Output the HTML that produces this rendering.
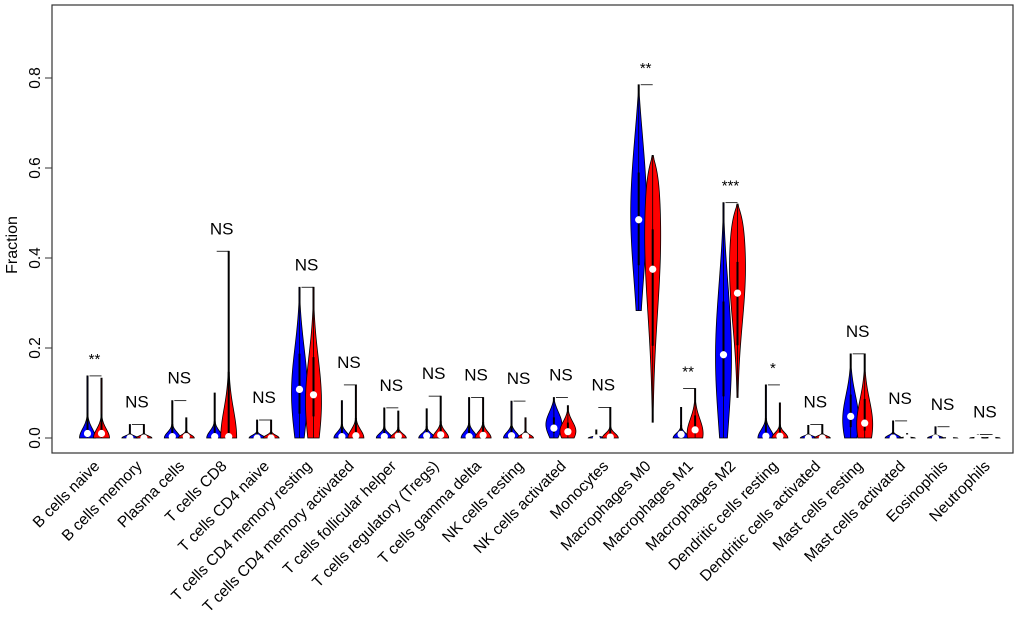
<!DOCTYPE html>
<html><head><meta charset="utf-8">
<style>
html,body{margin:0;padding:0;background:#fff;}
svg{display:block;font-family:"Liberation Sans",Arial,sans-serif;}
</style></head>
<body>
<svg id="chart" width="1020" height="632" viewBox="0 0 1020 632" xmlns="http://www.w3.org/2000/svg">
<rect x="52" y="5" width="961" height="448" fill="none" stroke="#333" stroke-width="1.2"/>
<text transform="translate(17,245) rotate(-90)" text-anchor="middle" font-size="16">Fraction</text>
<g id="yaxis"></g>
<g id="marks"></g>
<g id="xlabels"></g>
</svg>
<script>
const categories=["B cells naive","B cells memory","Plasma cells","T cells CD8","T cells CD4 naive","T cells CD4 memory resting","T cells CD4 memory activated","T cells follicular helper","T cells regulatory (Tregs)","T cells gamma delta","NK cells resting","NK cells activated","Monocytes","Macrophages M0","Macrophages M1","Macrophages M2","Dendritic cells resting","Dendritic cells activated","Mast cells resting","Mast cells activated","Eosinophils","Neutrophils"];
const sigLabels=["**","NS","NS","NS","NS","NS","NS","NS","NS","NS","NS","NS","NS","**","**","***","*","NS","NS","NS","NS","NS"];
const blueMax=[0.138,0.03,0.083,0.1,0.04,0.335,0.083,0.067,0.065,0.09,0.082,0.09,0.018,0.785,0.068,0.523,0.118,0.028,0.187,0.038,0.025,0.008];
const blueMin=[0,0,0,0,0,0,0,0,0,0,0,0,0,0.283,0,0,0,0,0,0,0,0];
const bluePeak=[0,0,0,0,0,0.1,0,0,0,0,0,0.03,0,0.5,0,0.18,0,0,0.04,0,0,0];
const blueMed=[0.01,0,0.003,0.003,0,0.108,0.003,0.003,0.005,0.003,0.005,0.022,0,0.485,0.008,0.185,0.004,0,0.048,0,0,0];
const redMax=[0.133,0.03,0.045,0.415,0.04,0.335,0.118,0.06,0.093,0.09,0.045,0.072,0.068,0.628,0.11,0.52,0.078,0.03,0.187,0.01,0.005,0.008];
const redMin=[0,0,0,0,0,0,0,0,0,0,0,0,0,0.035,0,0.09,0,0,0,0,0,0];
const redPeak=[0,0,0,0,0,0.08,0,0,0,0,0,0.015,0,0.45,0.01,0.38,0,0,0.03,0,0,0];
const redMed=[0.01,0,0.003,0.003,0,0.096,0.005,0.004,0.007,0.006,0.004,0.014,0.002,0.375,0.018,0.322,0.004,0,0.033,0,0,0];
const yTicks=[0,0.2,0.4,0.6,0.8];
const yTickLabels=["0.0","0.2","0.4","0.6","0.8"];

const NS="http://www.w3.org/2000/svg";
const yS=v=>438-450*v;
const xC=i=>94.5+42.4*i;
function mk(tag,attrs,parent){const e=document.createElementNS(NS,tag);for(const k in attrs)e.setAttribute(k,attrs[k]);parent.appendChild(e);return e;}
const yax=document.getElementById('yaxis');
mk('line',{x1:52,x2:52,y1:yS(0),y2:yS(0.8),stroke:'#333'},yax);
yTicks.forEach((t,i)=>{
  const l=mk('line',{x1:45,x2:52,y1:yS(t),y2:yS(t),stroke:'#333'},yax);
  
  
  const tx=mk('text',{transform:`translate(40,${yS(t)}) rotate(-90)`,'text-anchor':'middle','font-size':'15.5'},yax);
  tx.textContent=yTickLabels[i];
  
  
});
const marks=document.getElementById('marks');
function violin(cx,mn,mx,pk,md,color,name){
  const g=mk('g',{},marks);
  
  
  const W=8, N=60, rng=Math.max(mx-mn,0.001);
  const k=(pk<=mn+0.0001)?22:6;
  const pts=[];
  for(let j=0;j<=N;j++){
    const v=mn+rng*j/N;
    const u=(v-pk)/rng;
    let w=W*Math.exp(-k*u*u);
    if(v>pk){const f=(v-pk)/(mx-pk||1);w*=Math.max(0,1-Math.pow(f,6));}
    w=Math.max(w,0.6);
    if(j===N)w=0.6;
    pts.push([v,w]);
  }
  let d='';
  pts.forEach((p,j)=>{d+=(j?'L':'M')+(cx+p[1]).toFixed(2)+','+yS(p[0]).toFixed(2);});
  for(let j=pts.length-1;j>=0;j--){d+='L'+(cx-pts[j][1]).toFixed(2)+','+yS(pts[j][0]).toFixed(2);}
  d+='Z';
  mk('path',{d:d,fill:color,stroke:'#000','stroke-width':'0.8'},g);
  const q1=md-(md-mn)*0.5, q3=md+(mx-md)*0.35;
  mk('line',{x1:cx,x2:cx,y1:yS(mn),y2:yS(mx),stroke:'#000','stroke-width':'0.8'},g);
  mk('line',{x1:cx,x2:cx,y1:yS(q1),y2:yS(q3),stroke:'#000','stroke-width':'2'},g);
  mk('circle',{cx:cx,cy:yS(md),r:3.6,fill:'#fff'},g);
}
categories.forEach((c,i)=>{
  const cx=xC(i), bx=cx-7, rx=cx+7;
  violin(bx,blueMin[i],blueMax[i],bluePeak[i],blueMed[i],'#0000ff','violin-blue-'+i);
  violin(rx,redMin[i],redMax[i],redPeak[i],redMed[i],'#ff0000','violin-red-'+i);
  const top=Math.max(blueMax[i],redMax[i]);
  const br=mk('line',{x1:bx+2,x2:rx,y1:yS(top),y2:yS(top),stroke:'#000','stroke-width':'0.8'},marks);
  
  
  const isNS=sigLabels[i]==='NS';
  const t=mk('text',{x:cx,y:yS(top)-(isNS?17:12),'text-anchor':'middle','font-size':isNS?'17':'15'},marks);
  t.textContent=sigLabels[i];
  
  
  const xl=mk('text',{transform:`translate(${cx+6},467) rotate(-45)`,'text-anchor':'end','font-size':'15.5'},document.getElementById('xlabels'));
  xl.textContent=c;
  
  
});
</script>
</body></html>
